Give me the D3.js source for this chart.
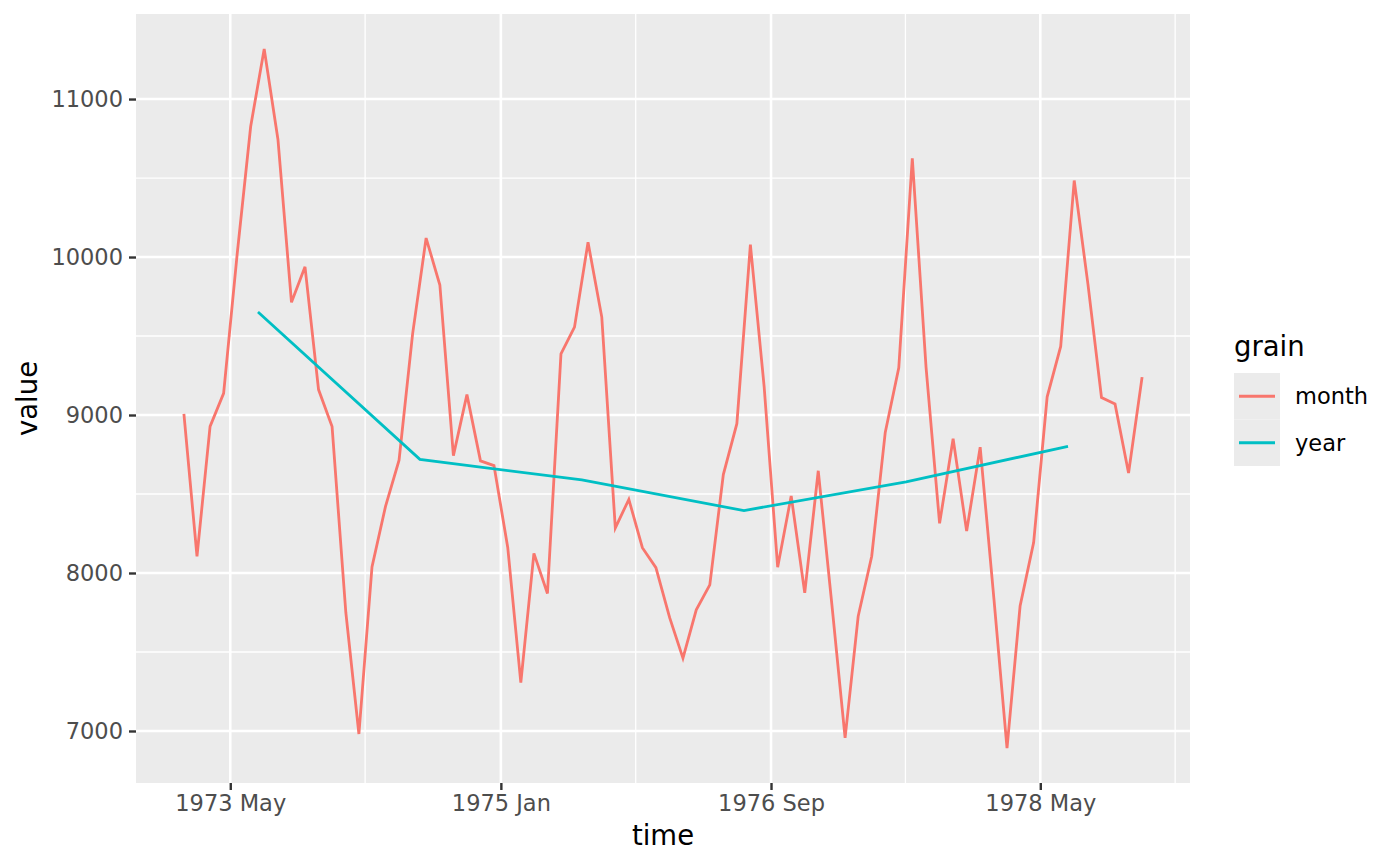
<!DOCTYPE html>
<html>
<head>
<meta charset="utf-8">
<script src="https://cdn.jsdelivr.net/npm/d3@7"></script>
<style>
  body { margin: 0; background: #fff; }
  text { font-family: "DejaVu Sans", sans-serif; }
</style>
</head>
<body>
<div id="chart"></div>
<script>
// Monthly values, Jan 1973 .. Dec 1978
const monthValues = [
    9007, 8106, 8928, 9137, 10017, 10826, 11317, 10744, 9713, 9938, 9161, 8927,
    7750, 6981, 8038, 8422, 8714, 9512, 10120, 9823, 8743, 9129, 8710, 8680,
    8162, 7306, 8124, 7870, 9387, 9556, 10093, 9620, 8285, 8466, 8160, 8034,
    7717, 7461, 7767, 7925, 8623, 8945, 10078, 9179, 8037, 8488, 7874, 8647,
    7792, 6957, 7726, 8106, 8890, 9299, 10625, 9302, 8314, 8850, 8265, 8796,
    7836, 6892, 7791, 8192, 9115, 9434, 10484, 9827, 9110, 9070, 8633, 9240
];
const years = [1973, 1974, 1975, 1976, 1977, 1978];
const yearValues = [9652, 8719, 8589, 8395, 8577, 8802];

const grains = ["month", "year"];
const grainColors = ["#F8766D", "#00BFC4"];

// x axis breaks: [year, monthIndex]
const majorBreaks = [[1973, 4], [1975, 0], [1976, 8], [1978, 4]];
const majorLabels = ["1973 May", "1975 Jan", "1976 Sep", "1978 May"];
const minorBreaks = [[1974, 2], [1975, 10], [1977, 6], [1979, 2]];
const yMajor = [7000, 8000, 9000, 10000, 11000];
const yMinor = [7500, 8500, 9500, 10500];

// midpoint of a period
function mid(a, b) { return new Date((a.getTime() + b.getTime()) / 2); }

const monthData = monthValues.map(function(v, i) {
    const y = 1973 + Math.floor(i / 12), m = i % 12;
    return { time: mid(new Date(y, m, 1), new Date(y, m + 1, 1)), value: v };
});
const yearData = years.map(function(y, i) {
    return { time: mid(new Date(y, 0, 1), new Date(y + 1, 0, 1)), value: yearValues[i] };
});

const width = 1400, height = 866;
const panel = { left: 136, right: 1190, top: 14, bottom: 783 };

const svg = d3.select("#chart").append("svg")
    .attr("width", width)
    .attr("height", height);

// scales with ggplot-like 5% expansion
const tExt = d3.extent(monthData, d => d.time.getTime());
const tPad = (tExt[1] - tExt[0]) * 0.05;
const x = d3.scaleTime()
    .domain([new Date(tExt[0] - tPad), new Date(tExt[1] + tPad)])
    .range([panel.left, panel.right]);

const vExt = d3.extent(monthValues);
const vPad = (vExt[1] - vExt[0]) * 0.05;
const y = d3.scaleLinear()
    .domain([vExt[0] - vPad, vExt[1] + vPad])
    .range([panel.bottom, panel.top]);

// panel background
svg.append("rect")
    .attr("x", panel.left).attr("y", panel.top)
    .attr("width", panel.right - panel.left)
    .attr("height", panel.bottom - panel.top)
    .attr("fill", "#EBEBEB");

const grid = svg.append("g");
const toDate = b => new Date(b[0], b[1], 1);

// minor grid
grid.selectAll(".xminor").data(minorBreaks.map(toDate).filter(d => x(d) < panel.right))
    .enter().append("line")
    .attr("x1", d => x(d)).attr("x2", d => x(d))
    .attr("y1", panel.top).attr("y2", panel.bottom)
    .attr("stroke", "#fff").attr("stroke-width", 1.3);
grid.selectAll(".yminor").data(yMinor)
    .enter().append("line")
    .attr("x1", panel.left).attr("x2", panel.right)
    .attr("y1", d => y(d)).attr("y2", d => y(d))
    .attr("stroke", "#fff").attr("stroke-width", 1.3);

// major grid
grid.selectAll(".xmajor").data(majorBreaks.map(toDate))
    .enter().append("line")
    .attr("x1", d => x(d)).attr("x2", d => x(d))
    .attr("y1", panel.top).attr("y2", panel.bottom)
    .attr("stroke", "#fff").attr("stroke-width", 2.6);
grid.selectAll(".ymajor").data(yMajor)
    .enter().append("line")
    .attr("x1", panel.left).attr("x2", panel.right)
    .attr("y1", d => y(d)).attr("y2", d => y(d))
    .attr("stroke", "#fff").attr("stroke-width", 2.6);

// lines
const line = d3.line().x(d => x(d.time)).y(d => y(d.value));
[monthData, yearData].forEach(function(data, i) {
    svg.append("path")
        .datum(data)
        .attr("d", line)
        .attr("fill", "none")
        .attr("stroke", grainColors[i])
        .attr("stroke-width", 2.8);
});

// axes
const xAxis = svg.append("g")
    .attr("transform", `translate(0,${panel.bottom})`)
    .call(d3.axisBottom(x)
        .tickValues(majorBreaks.map(toDate))
        .tickFormat((d, i) => majorLabels[i])
        .tickSize(7).tickPadding(5));
const yAxis = svg.append("g")
    .attr("transform", `translate(${panel.left},0)`)
    .call(d3.axisLeft(y)
        .tickValues(yMajor)
        .tickFormat(d3.format("d"))
        .tickSize(7).tickPadding(6));

[xAxis, yAxis].forEach(function(ax) {
    ax.select(".domain").remove();
    ax.selectAll(".tick line").attr("stroke", "#333").attr("stroke-width", 2.4);
    ax.selectAll(".tick text")
        .attr("fill", "#4D4D4D")
        .style("font-size", "22.5px")
        .style("font-family", "'DejaVu Sans', sans-serif");
});

// axis titles
svg.append("text")
    .attr("x", (panel.left + panel.right) / 2)
    .attr("y", 845)
    .attr("text-anchor", "middle")
    .style("font-size", "27.5px")
    .text("time");
svg.append("text")
    .attr("transform", `translate(37,${(panel.top + panel.bottom) / 2}) rotate(-90)`)
    .attr("text-anchor", "middle")
    .style("font-size", "27.5px")
    .text("value");

// legend
const legend = svg.append("g").attr("transform", "translate(1234,373)");
legend.append("text")
    .attr("x", 0).attr("y", -17)
    .style("font-size", "27.5px")
    .text("grain");
const keyH = 46.5;
const item = legend.selectAll(".legend-item")
    .data(grains)
    .enter().append("g")
    .attr("transform", (d, i) => `translate(0,${i * keyH})`);
item.append("rect")
    .attr("width", 46).attr("height", keyH)
    .attr("fill", "#EBEBEB");
item.append("line")
    .attr("x1", 5).attr("x2", 41)
    .attr("y1", keyH / 2).attr("y2", keyH / 2)
    .attr("stroke", (d, i) => grainColors[i])
    .attr("stroke-width", 2.8);
item.append("text")
    .attr("x", 61).attr("y", keyH / 2 + 8)
    .style("font-size", "22.5px")
    .text(d => d);
</script>
</body>
</html>
